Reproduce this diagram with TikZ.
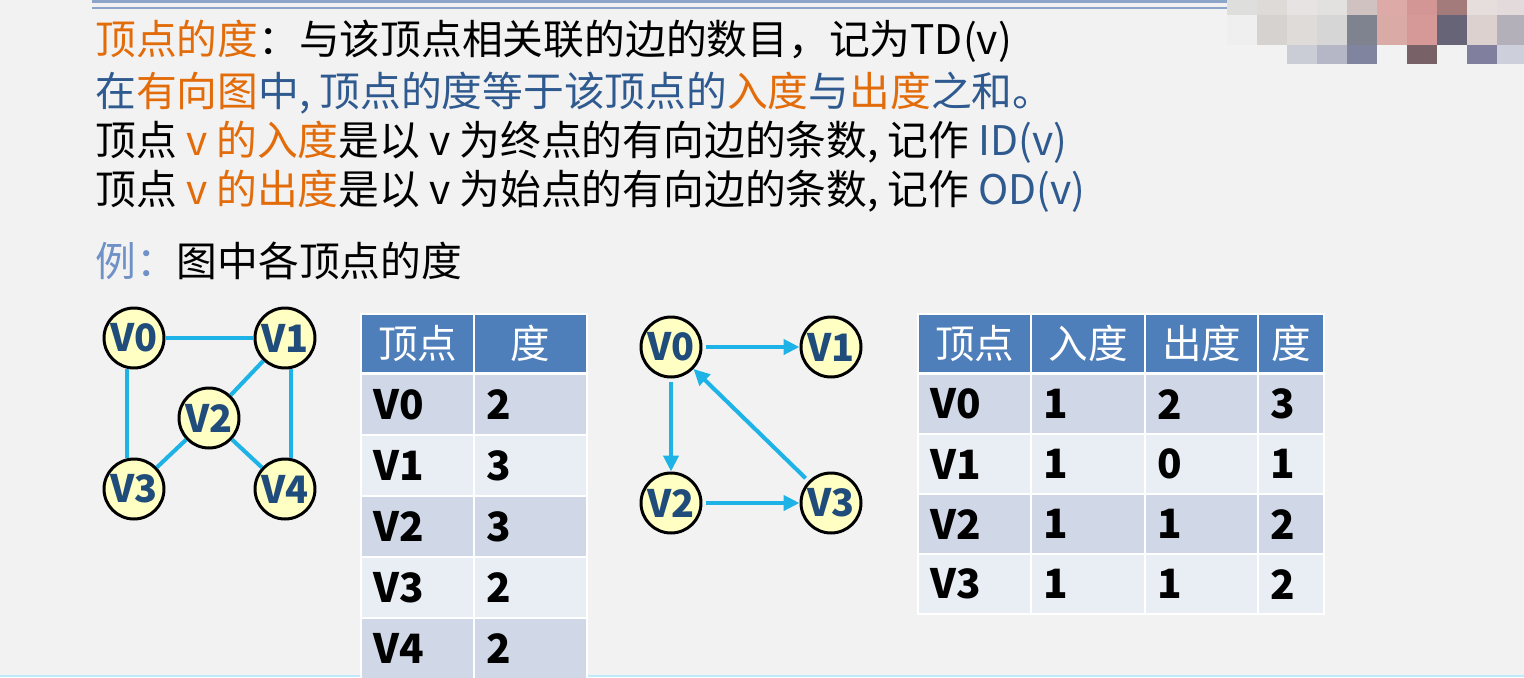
\documentclass[tikz,border=0pt]{standalone}
\usepackage{fontspec}
\setmainfont{Noto Sans CJK SC}
\usepackage{tikz}
\usetikzlibrary{arrows.meta}
\definecolor{bgray}{HTML}{F2F2F2}
\definecolor{hlorange}{HTML}{E36C0A}
\definecolor{hlblue}{HTML}{2F5A8F}
\definecolor{exblue}{HTML}{6F91C7}
\definecolor{edgecyan}{HTML}{1DB3E6}
\definecolor{nodefill}{HTML}{FFFFC4}
\definecolor{labelblue}{HTML}{1F4C7A}
\definecolor{headfill}{HTML}{4F7FBA}
\definecolor{rowdark}{HTML}{D0D8E8}
\definecolor{rowlight}{HTML}{E9EDF4}
\definecolor{ruleblue}{HTML}{8CA5C8}
\tikzset{
  txt/.style={anchor=base west, inner sep=0pt, font=\fontsize{23.2}{28}\selectfont},
  vtx/.style={circle, draw=black, line width=1.7pt, fill=nodefill, minimum size=1.2cm, inner sep=0pt, text=labelblue, font=\fontsize{21.5}{25}\selectfont\bfseries},
  edge/.style={edgecyan, line width=2.3pt},
  arc/.style={edgecyan, line width=2.3pt, -{Triangle[length=0.32cm,width=0.3cm]}, shorten <=0.08cm},
  cell/.style={rectangle, draw=white, line width=1.2pt, anchor=north west, inner xsep=0.24cm, inner ysep=0pt, text width=#1, align=left, font=\fontsize{23}{27}\selectfont\bfseries},
  headcell/.style={cell=#1, fill=headfill, text=white, align=center, minimum height=1.18cm, font=\fontsize{22.5}{27}\selectfont},
}
\begin{document}
\begin{tikzpicture}[x=0.02cm, y=-0.02cm]
  \useasboundingbox (0,0) rectangle (1524,677);
  \fill[bgray] (0,0) rectangle (1524,677);
  \draw[ruleblue, line width=1.7pt] (92,1.5) -- (1230,1.5);
  \draw[ruleblue, line width=0.6pt] (92,8) -- (1230,8);
  \draw[cyan!25, line width=1.2pt] (0,676) -- (1524,676);

  % blurred corner
  \foreach \c [count=\i from 0] in {DEDEDC,DDDAD8,E6E3E2,E2E1DF,CFC2C1,DEAAA7,D39695,A27B7A,E6DEDC,E2DADB}
    {\definecolor{mz}{HTML}{\c}\fill[mz] ({1227+30*\i},0) rectangle ({1257+30*\i},15);}
  \foreach \c [count=\i from 0] in {EFEFEF,D5D2CF,DEDBD8,D7D6D7,7F828F,DAAAA6,D69998,686478,DCD1CF,B3B0B9}
    {\definecolor{mz}{HTML}{\c}\fill[mz] ({1227+30*\i},15) rectangle ({1257+30*\i},45);}
  \foreach \c [count=\i from 0] in {F2F2F2,F2F2F2,CACDD6,B5B6C6,81849E,F2F2F2,786167,F2F2F2,807F9E,CDCFDA}
    {\definecolor{mz}{HTML}{\c}\fill[mz] ({1227+30*\i},45) rectangle ({1257+30*\i},64);}

  \node[txt] (l1) at (95,54) {\textcolor{hlorange}{顶点的度}：与该顶点相关联的边的数目，记为TD(v)};
  \node[txt] (l2) at (95,106) {\color{hlblue}在\textcolor{hlorange}{有向图}中, 顶点的度等于该顶点的\textcolor{hlorange}{入度}与\textcolor{hlorange}{出度}之和。};
  \node[txt] (l3) at (95,155) {顶点 \textcolor{hlorange}{v 的入度}是以 v 为终点的有向边的条数, 记作 \textcolor{hlblue}{ID(v)}};
  \node[txt] (l4) at (95,204) {顶点 \textcolor{hlorange}{v 的出度}是以 v 为始点的有向边的条数, 记作 \textcolor{hlblue}{OD(v)}};
  \node[txt] (l5) at (95,276) {\textcolor{exblue}{例：}图中各顶点的度};

  % undirected graph
  \node[vtx] (u0) at (134,338) {V0};
  \node[vtx] (u1) at (285,338) {V1};
  \node[vtx] (u2) at (209,418) {V2};
  \node[vtx] (u3) at (134,489) {V3};
  \node[vtx] (u4) at (285,489) {V4};
  \draw[edge] (u0) -- (u1);
  \draw[edge] (u0.257) -- (u3.103);
  \draw[edge] (u1) -- (u2);
  \draw[edge] (u1.281) -- (u4.79);
  \draw[edge] (u2) -- (u3);
  \draw[edge] (u2) -- (u4);

  \node[headcell=1.78cm] (t1h1) at (360,313) {顶点};
  \node[headcell=1.78cm] (t1h2) at (473,313) {度};
  \foreach \v/\d [count=\i] in {V0/2,V1/3,V2/3,V3/2,V4/2} {
    \ifodd\i \def\rowcol{rowdark}\else\def\rowcol{rowlight}\fi
    \node[cell=1.78cm, fill=\rowcol, minimum height=1.22cm] (t1a\i) at (360,{373+61*(\i-1)}) {\v};
    \node[cell=1.78cm, fill=\rowcol, minimum height=1.22cm] (t1b\i) at (473,{373+61*(\i-1)}) {\d};
  }

  % directed graph
  \node[vtx] (w0) at (671,347) {V0};
  \node[vtx] (w1) at (831,347) {V1};
  \node[vtx] (w2) at (671,503) {V2};
  \node[vtx] (w3) at (831,503) {V3};
  \draw[arc] (w0) -- (w1);
  \draw[arc] (w0) -- (w2);
  \draw[arc] (w2) -- (w3);
  \draw[arc] (w3) -- (w0);

  \node[headcell=1.78cm] (t2h1) at (917,313) {顶点};
  \node[headcell=1.80cm] (t2h2) at (1030,313) {入度};
  \node[headcell=1.78cm] (t2h3) at (1144,313) {出度};
  \node[headcell=0.84cm] (t2h4) at (1257,313) {度};
  \foreach \v/\a/\b/\d [count=\i] in {V0/1/2/3,V1/1/0/1,V2/1/1/2,V3/1/1/2} {
    \ifodd\i \def\rowcol{rowdark}\else\def\rowcol{rowlight}\fi
    \node[cell=1.78cm, fill=\rowcol, minimum height=1.2cm] (t2a\i) at (917,{373+60*(\i-1)}) {\v};
    \node[cell=1.80cm, fill=\rowcol, minimum height=1.2cm] (t2b\i) at (1030,{373+60*(\i-1)}) {\a};
    \node[cell=1.78cm, fill=\rowcol, minimum height=1.2cm] (t2c\i) at (1144,{373+60*(\i-1)}) {\b};
    \node[cell=0.84cm, fill=\rowcol, minimum height=1.2cm] (t2d\i) at (1257,{373+60*(\i-1)}) {\d};
  }
\end{tikzpicture}
\end{document}
